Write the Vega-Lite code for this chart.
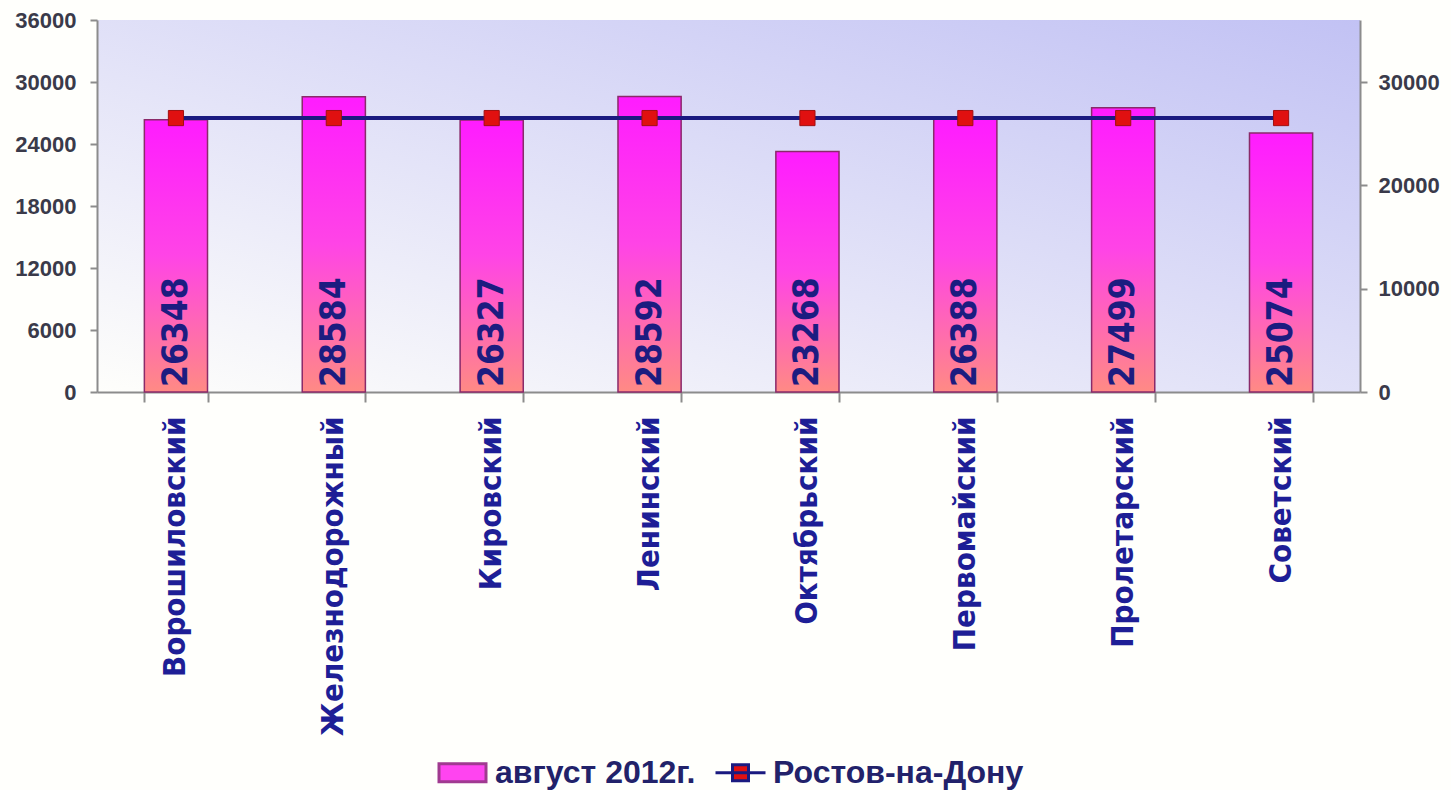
{
  "$schema": "https://vega.github.io/schema/vega-lite/v6.json",
  "autosize": {"type": "none"},
  "padding": {"left": 97, "top": 20, "right": 91, "bottom": 398},
  "width": 1263,
  "height": 372,
  "background": "#fffffc",
  "config": {
    "view": {
      "stroke": null,
      "fill": {"gradient": "linear", "x1": 0, "y1": 1, "x2": 1, "y2": 0,
        "stops": [{"offset": 0, "color": "#fefefb"}, {"offset": 1, "color": "#c2c2f4"}]}
    }
  },
  "data": {
    "values": [
      {"district": "Ворошиловский", "value": 26348, "rostov": 26510},
      {"district": "Железнодорожный", "value": 28584, "rostov": 26510},
      {"district": "Кировский", "value": 26327, "rostov": 26510},
      {"district": "Ленинский", "value": 28592, "rostov": 26510},
      {"district": "Октябрьский", "value": 23268, "rostov": 26510},
      {"district": "Первомайский", "value": 26388, "rostov": 26510},
      {"district": "Пролетарский", "value": 27499, "rostov": 26510},
      {"district": "Советский", "value": 25074, "rostov": 26510}
    ]
  },
  "encoding": {
    "x": {
      "field": "district", "type": "nominal", "sort": null,
      "scale": {"paddingInner": 0.6, "paddingOuter": 0.3},
      "axis": {
        "title": null, "labelAngle": 270, "labelAlign": "right", "labelBaseline": "middle",
        "labelFont": "DejaVu Sans Condensed, sans-serif",
        "labelFontSize": 31, "labelFontWeight": "bold", "labelColor": "#1e1e96",
        "labelPadding": 14, "labelLimit": 600,
        "tickBand": "extent", "tickSize": 10, "tickWidth": 2, "tickColor": "#8c8c8c",
        "domainColor": "#8c8c8c", "domainWidth": 2
      }
    }
  },
  "layer": [
    {
      "encoding": {
        "y": {
          "field": "value", "type": "quantitative",
          "scale": {"domain": [0, 36000], "nice": false, "zero": true},
          "axis": {
            "title": null, "orient": "left", "values": [0, 6000, 12000, 18000, 24000, 30000, 36000],
            "format": "d", "grid": false,
            "labelFont": "Liberation Sans", "labelFontSize": 22, "labelFontWeight": "bold",
            "labelColor": "#3a3a4a", "labelPadding": 14,
            "tickSize": 7, "tickWidth": 2, "tickColor": "#8c8c8c",
            "domainColor": "#8c8c8c", "domainWidth": 2
          }
        }
      },
      "layer": [
        {
          "mark": {
            "type": "bar",
            "strokeWidth": 3,
            "stroke": {"expr": "datum.value === 'Ростов-на-Дону' ? '#1a1a80' : (datum.value === 'август 2012г.' ? '#a03a90' : 'transparent')"}
          },
          "encoding": {
            "fill": {
              "datum": "август 2012г.", "type": "nominal",
              "scale": {"domain": ["август 2012г.", "Ростов-на-Дону"], "range": ["#ff44f0", "#e01010"]},
              "legend": {
                "title": null, "orient": "none", "legendX": 339, "legendY": 726,
                "direction": "horizontal", "symbolSize": 2500, "labelOffset": 6,
                "columnPadding": 13, "padding": 0,
                "symbolType": {"expr": "datum.value === 'Ростов-на-Дону' ? 'M-1,0H1M-0.32,-0.32H0.32V0.32H-0.32Z' : 'M-0.94,-0.36H0.94V0.36H-0.94Z'"},
                "symbolStrokeWidth": 3,
                "symbolOpacity": 1,
                "labelFont": "Liberation Sans", "labelFontSize": 32, "labelFontWeight": "bold",
                "labelColor": "#22226a", "labelLimit": 600
              }
            }
          }
        },
        {
          "mark": {
            "type": "bar", "strokeWidth": 1.5, "stroke": "#8a2a6a",
            "fill": {"gradient": "linear", "x1": 0, "y1": 0, "x2": 0, "y2": 1,
              "stops": [{"offset": 0, "color": "#ff1cff"}, {"offset": 0.5, "color": "#ff44e6"}, {"offset": 1, "color": "#ff8a84"}]}
          }
        },
        {
          "mark": {
            "type": "text", "angle": 270, "align": "left", "baseline": "middle", "dx": 5,
            "font": "DejaVu Sans Condensed, sans-serif",
            "fontSize": 35, "fontWeight": "bold", "fill": "#1c1c80"
          },
          "encoding": {
            "y": {"datum": 0, "type": "quantitative"},
            "text": {"field": "value", "type": "quantitative", "format": "d"}
          }
        }
      ]
    },
    {
      "encoding": {
        "y": {
          "field": "rostov", "type": "quantitative",
          "scale": {"domain": [0, 36000], "nice": false, "zero": true},
          "axis": {
            "title": null, "orient": "right", "values": [0, 10000, 20000, 30000],
            "format": "d", "grid": false,
            "labelFont": "Liberation Sans", "labelFontSize": 22, "labelFontWeight": "bold",
            "labelColor": "#3a3a4a", "labelPadding": 11,
            "tickSize": 7, "tickWidth": 2, "tickColor": "#8c8c8c",
            "domainColor": "#8c8c8c", "domainWidth": 2
          }
        }
      },
      "layer": [
        {
          "mark": {"type": "line", "strokeWidth": 4, "stroke": "#1a1a80"},
          "encoding": {}
        },
        {
          "mark": {"type": "square", "size": 230, "fill": "#e01010", "stroke": "#a01010", "strokeWidth": 1, "opacity": 1, "filled": true},
          "encoding": {}
        }
      ]
    }
  ],
  "resolve": {"scale": {"y": "independent"}}
}
